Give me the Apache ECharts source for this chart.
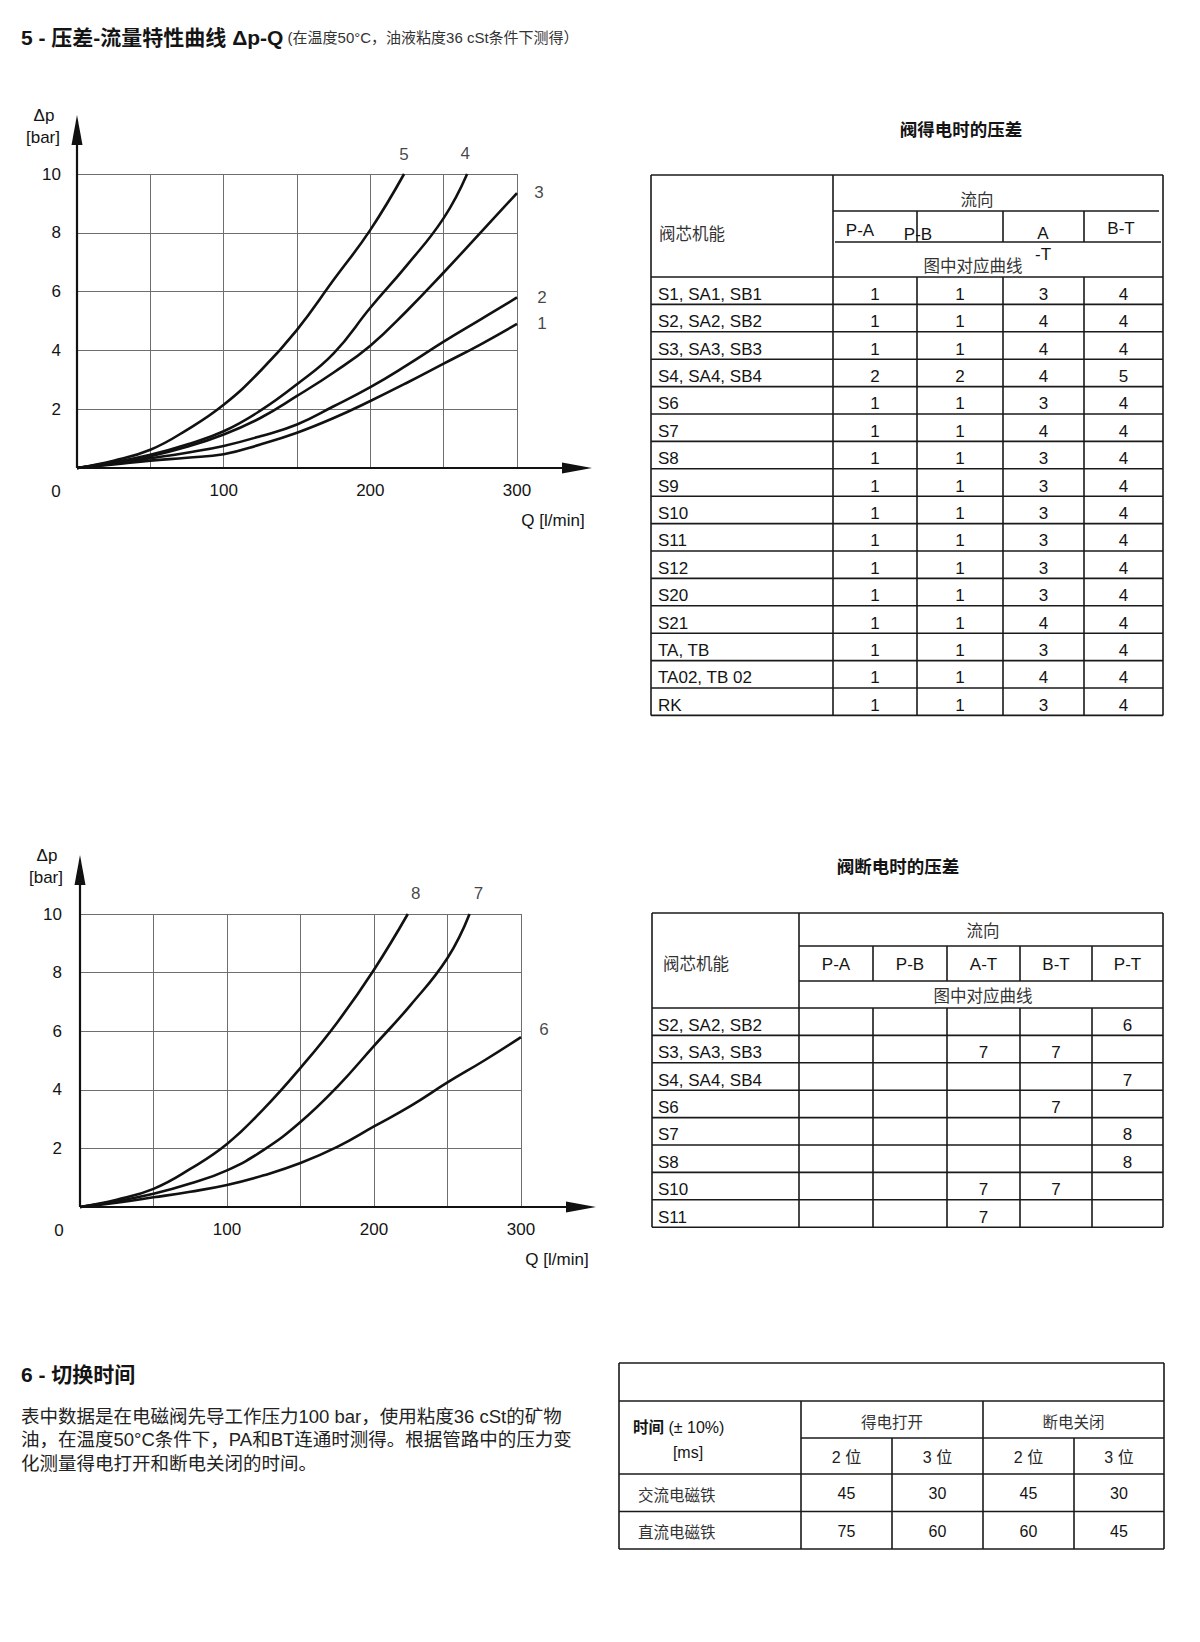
<!DOCTYPE html>
<html><head><meta charset="utf-8">
<script src="https://cdn.jsdelivr.net/npm/echarts@6/dist/echarts.min.js"></script>
<style>html,body{margin:0;padding:0;background:#fff}#page{width:1200px;height:1642px}</style>
</head><body><div id="page"></div>
<script>
// ---------------- data ----------------
const xTickLabels = [100, 200, 300];
const yTickLabels = [2, 4, 6, 8, 10];

const curve1 = [[0,0],[25,0.12],[50,0.25],[75,0.35],[100,0.47],[125,0.8],[150,1.2],[175,1.7],[200,2.28],[225,2.9],[250,3.55],[275,4.2],[300,4.9]];
const curve2 = [[0,0],[25,0.15],[50,0.33],[75,0.52],[100,0.75],[125,1.08],[150,1.48],[175,2.1],[200,2.75],[225,3.5],[250,4.3],[275,5.05],[300,5.8]];
const curve3 = [[0,0],[25,0.18],[50,0.4],[75,0.72],[100,1.14],[125,1.7],[150,2.45],[175,3.25],[200,4.16],[225,5.35],[250,6.65],[275,8.0],[300,9.35]];
const curve4 = [[0,0],[25,0.2],[50,0.45],[75,0.8],[100,1.25],[125,1.95],[150,2.85],[175,3.9],[200,5.45],[225,6.9],[250,8.5],[266,10]];
const curve5 = [[0,0],[25,0.25],[50,0.62],[75,1.3],[100,2.15],[125,3.3],[150,4.7],[175,6.4],[200,8.1],[223,10]];
const curve6 = [[0,0],[25,0.15],[50,0.33],[75,0.52],[100,0.75],[125,1.08],[150,1.5],[175,2.05],[200,2.75],[225,3.45],[250,4.25],[275,5.0],[300,5.8]];
const curve7 = [[0,0],[25,0.2],[50,0.45],[75,0.8],[100,1.25],[125,1.95],[150,2.9],[175,4.1],[200,5.5],[225,6.9],[250,8.5],[265,10]];
const curve8 = [[0,0],[25,0.25],[50,0.62],[75,1.3],[100,2.15],[125,3.35],[150,4.75],[175,6.3],[200,8.1],[223,10]];
const curveNames1 = ['1','2','3','4','5'];
const curveNames2 = ['6','7','8'];

const flowCols1 = ['P-A','P-B','A-T','B-T'];
const spoolRows1 = ['S1, SA1, SB1','S2, SA2, SB2','S3, SA3, SB3','S4, SA4, SB4','S6','S7','S8','S9','S10','S11','S12','S20','S21','TA, TB','TA02, TB 02','RK'];
const onPA = [1,1,1,2,1,1,1,1,1,1,1,1,1,1,1,1];
const onPB = [1,1,1,2,1,1,1,1,1,1,1,1,1,1,1,1];
const onAT = [3,4,4,4,3,4,3,3,3,3,3,3,4,3,4,3];
const onBT = [4,4,4,5,4,4,4,4,4,4,4,4,4,4,4,4];

const flowCols2 = ['P-A','P-B','A-T','B-T','P-T'];
const spoolRows2 = ['S2, SA2, SB2','S3, SA3, SB3','S4, SA4, SB4','S6','S7','S8','S10','S11'];
const offPA = ['','','','','','','',''];
const offPB = ['','','','','','','',''];
const offAT = ['', 7,'','','','', 7, 7];
const offBT = ['', 7,'', 7,'','', 7,''];
const offPT = [ 6,'', 7,'', 8, 8,'',''];

const timeRows = ['交流电磁铁','直流电磁铁'];
const timeGroups = ['得电打开','断电关闭'];
const timeSub = ['2 位','3 位','2 位','3 位'];
const timeOn2 = [45, 75];
const timeOn3 = [30, 60];
const timeOff2 = [45, 60];
const timeOff3 = [30, 45];

// ---------------- layout / style ----------------
const FONT = '"Liberation Sans", Arial, "Noto Sans CJK SC", sans-serif';
const CJK = '"Noto Sans CJK SC", "Liberation Sans", sans-serif';
const INK = '#141414';
const G1 = {left: 77, top: 174, width: 440, height: 294};
const G2 = {left: 80, top: 914, width: 441, height: 293};

const gfx = [];
function L(x1, y1, x2, y2, w, c) {
  gfx.push({type: 'line', silent: true, z: 20, shape: {x1, y1, x2, y2}, style: {stroke: c || '#1a1a1a', lineWidth: w || 1.6}});
}
function T(x, y, text, o) {
  o = o || {};
  const st = {text: text, fontSize: o.size || 17, fontFamily: o.font || FONT, fontWeight: o.weight || 'normal',
    fill: o.color || INK, align: o.align || 'left', verticalAlign: 'middle'};
  if (o.rich) st.rich = o.rich;
  if (o.lineHeight) st.lineHeight = o.lineHeight;
  gfx.push({type: 'text', silent: true, z: 20, x: x, y: y, style: st});
}
function P(points) {
  gfx.push({type: 'polygon', silent: true, z: 21, shape: {points}, style: {fill: '#111'}});
}

// title
T(21, 37, '{b|5 - 压差-流量特性曲线 Δp-Q}{s| (在温度50°C，油液粘度36 cSt条件下测得）}', {
  rich: {
    b: {fontSize: 21, fontWeight: 'bold', fontFamily: FONT, fill: INK},
    s: {fontSize: 15, fontFamily: FONT, fill: '#333'}
  }
});

// chart decorations (axis lines with arrows, axis names, origin label)
[G1, G2].forEach(G => {
  const ox = G.left, oy = G.top + G.height;
  const xt = G.left + G.width + 75, yt = G.top - 59;
  L(ox, oy, xt - 26, oy, 2.2, '#111');
  P([[xt, oy], [xt - 30, oy - 5.5], [xt - 30, oy + 5.5]]);
  L(ox, oy, ox, yt + 26, 2.2, '#111');
  P([[ox, yt], [ox - 5.5, yt + 30], [ox + 5.5, yt + 30]]);
  T(ox - 33, yt, 'Δp', {align: 'center', size: 17});
  T(ox - 34, yt + 22, '[bar]', {align: 'center', size: 17});
  T(ox - 21, oy + 23, '0', {align: 'center', size: 17});
  T(ox + G.width + 36, oy + 52, 'Q [l/min]', {align: 'center', size: 17});
});

// ---------- table 1 ----------
(function () {
  const Lx = 651, Rx = 1163, Ty = 175, c1 = 833, cols = [833, 917, 1003, 1084, 1163];
  const hA = 211, hB = 242, hC = 277, rh = 27.4;
  const n = spoolRows1.length, By = hC + n * rh;
  T(961, 128, '阀得电时的压差', {align: 'center', size: 17.5, weight: 'bold', font: CJK});
  L(Lx, Ty, Rx, Ty); L(Lx, By, Rx, By); L(Lx, Ty, Lx, By); L(Rx, Ty, Rx, By); L(c1, Ty, c1, By);
  L(c1, hA, Rx - 4, hA); L(c1 + 2, hB, Rx - 2, hB); L(Lx, hC, Rx, hC);
  for (let k = 1; k < n; k++) L(Lx, hC + k * rh, Rx, hC + k * rh);
  for (let j = 1; j < 4; j++) { L(cols[j], hA, cols[j], hB); L(cols[j], hC, cols[j], By); }
  T(659, 233, '阀芯机能', {size: 16.5, font: CJK, color: '#333'});
  T(977, 199, '流向', {align: 'center', size: 16.5, font: CJK, color: '#333'});
  const hp = [[860, 230], [918, 234], [1043, 244], [1121, 228]];
  flowCols1.forEach((c, j) => {
    const txt = j === 2 ? c.replace('-', '\n-') : c;
    T(hp[j][0], hp[j][1], txt, {align: 'center', size: 17, lineHeight: 21});
  });
  T(973, 265, '图中对应曲线', {align: 'center', size: 16.5, font: CJK, color: '#333'});
  const vals = [onPA, onPB, onAT, onBT];
  spoolRows1.forEach((r, i) => {
    const y = hC + i * rh + rh / 2 + 3.5;
    T(658, y, r, {size: 17});
    vals.forEach((v, j) => T((cols[j] + cols[j + 1]) / 2, y, String(v[i]), {align: 'center', size: 17}));
  });
})();

// ---------- table 2 ----------
(function () {
  const Lx = 652, Rx = 1163, Ty = 913, c1 = 799, cols = [799, 873, 947, 1020, 1092, 1163];
  const hA = 946, hB = 981, hC = 1008, rh = 27.4;
  const n = spoolRows2.length, By = hC + n * rh;
  T(898, 865, '阀断电时的压差', {align: 'center', size: 17.5, weight: 'bold', font: CJK});
  L(Lx, Ty, Rx, Ty); L(Lx, By, Rx, By); L(Lx, Ty, Lx, By); L(Rx, Ty, Rx, By); L(c1, Ty, c1, By);
  L(c1, hA, Rx, hA); L(c1, hB, Rx, hB); L(Lx, hC, Rx, hC);
  for (let k = 1; k < n; k++) L(Lx, hC + k * rh, Rx, hC + k * rh);
  for (let j = 1; j < 5; j++) { L(cols[j], hA, cols[j], hB); L(cols[j], hC, cols[j], By); }
  T(663, 963, '阀芯机能', {size: 16.5, font: CJK, color: '#333'});
  T(983, 930, '流向', {align: 'center', size: 16.5, font: CJK, color: '#333'});
  flowCols2.forEach((c, j) => T((cols[j] + cols[j + 1]) / 2, 964, c, {align: 'center', size: 17}));
  T(983, 995, '图中对应曲线', {align: 'center', size: 16.5, font: CJK, color: '#333'});
  const vals = [offPA, offPB, offAT, offBT, offPT];
  spoolRows2.forEach((r, i) => {
    const y = hC + i * rh + rh / 2 + 3.5;
    T(658, y, r, {size: 17});
    vals.forEach((v, j) => { if (v[i] !== '') T((cols[j] + cols[j + 1]) / 2, y, String(v[i]), {align: 'center', size: 17}); });
  });
})();

// ---------- section 6 ----------
T(21, 1374, '6 - 切换时间', {size: 21, weight: 'bold'});
const para = ['表中数据是在电磁阀先导工作压力100 bar，使用粘度36 cSt的矿物',
  '油，在温度50°C条件下，PA和BT连通时测得。根据管路中的压力变',
  '化测量得电打开和断电关闭的时间。'];
para.forEach((s, i) => T(21, 1416 + i * 23.5, s, {size: 18.5, color: '#222'}));

// ---------- table 3 ----------
(function () {
  const Lx = 619, Rx = 1164, Ty = 1363, r1 = 1401, r2 = 1438, r3 = 1474, rh = 37.5;
  const c1 = 801, mid = 983, cols = [801, 892, 983, 1074, 1164];
  const n = timeRows.length, By = r3 + n * rh;
  L(Lx, Ty, Rx, Ty); L(Lx, r1, Rx, r1); L(c1, r2, Rx, r2); L(Lx, r3, Rx, r3);
  for (let k = 1; k <= n; k++) L(Lx, r3 + k * rh, Rx, r3 + k * rh);
  L(Lx, Ty, Lx, By); L(Rx, Ty, Rx, By); L(c1, r1, c1, By); L(mid, r1, mid, By);
  L(cols[1], r2, cols[1], By); L(cols[3], r2, cols[3], By);
  T(633, 1427, '{b|时间}{n| (± 10%)}', {rich: {b: {fontSize: 15.5, fontWeight: 'bold', fontFamily: FONT, fill: INK}, n: {fontSize: 16, fontFamily: FONT, fill: INK}}});
  T(688, 1452, '[ms]', {align: 'center', size: 16});
  timeGroups.forEach((g, j) => T((cols[2 * j] + cols[2 * j + 2]) / 2, 1421, g, {align: 'center', size: 15.5, font: CJK, color: '#333'}));
  timeSub.forEach((s, j) => T((cols[j] + cols[j + 1]) / 2, 1457, s, {align: 'center', size: 16, color: '#222'}));
  const vals = [timeOn2, timeOn3, timeOff2, timeOff3];
  timeRows.forEach((r, i) => {
    const y = r3 + i * rh + rh / 2 + 1;
    T(638, y, r, {size: 15.5, font: CJK, color: '#333'});
    vals.forEach((v, j) => T((cols[j] + cols[j + 1]) / 2, y, String(v[i]), {align: 'center', size: 16}));
  });
})();

// ---------------- chart option ----------------
function xAxisCfg(i) {
  return {gridIndex: i, type: 'value', min: 0, max: 300, interval: 50,
    axisLine: {show: false}, axisTick: {show: false},
    splitLine: {show: true, lineStyle: {color: '#6e6e6e', width: 1}},
    axisLabel: {margin: 14, fontSize: 17, color: INK, fontFamily: FONT,
      formatter: v => xTickLabels.includes(v) ? String(v) : ''}};
}
function yAxisCfg(i) {
  return {gridIndex: i, type: 'value', min: 0, max: 10, interval: 2,
    axisLine: {show: false}, axisTick: {show: false},
    splitLine: {show: true, lineStyle: {color: '#6e6e6e', width: 1}},
    axisLabel: {margin: i === 0 ? 16 : 18, fontSize: 17, color: INK, fontFamily: FONT,
      formatter: v => yTickLabels.includes(v) ? String(v) : ''}};
}
function curveSeries(data, gi) {
  return {type: 'line', xAxisIndex: gi, yAxisIndex: gi, data: data, smooth: 0.45, symbol: 'none',
    lineStyle: {color: '#111', width: 2.6}, silent: true, clip: false, z: 3, animation: false};
}
function labelSeries(curves, names, offsets, gi) {
  return {type: 'scatter', xAxisIndex: gi, yAxisIndex: gi, symbolSize: 1, silent: true, clip: false, z: 5,
    itemStyle: {color: 'rgba(0,0,0,0)'}, animation: false,
    data: curves.map((c, k) => ({value: c[c.length - 1],
      label: {show: true, position: 'inside', offset: offsets[k], formatter: names[k], fontSize: 17, color: INK, fontFamily: FONT}}))};
}

const chart = echarts.init(document.getElementById('page'), null, {renderer: 'svg', width: 1200, height: 1642});
chart.setOption({
  animation: false,
  backgroundColor: '#fff',
  grid: [
    Object.assign({containLabel: false, outerBoundsMode: 'none'}, G1),
    Object.assign({containLabel: false, outerBoundsMode: 'none'}, G2)
  ],
  xAxis: [xAxisCfg(0), xAxisCfg(1)],
  yAxis: [yAxisCfg(0), yAxisCfg(1)],
  series: [
    curveSeries(curve1, 0), curveSeries(curve2, 0), curveSeries(curve3, 0), curveSeries(curve4, 0), curveSeries(curve5, 0),
    curveSeries(curve6, 1), curveSeries(curve7, 1), curveSeries(curve8, 1),
    labelSeries([curve1, curve2, curve3, curve4, curve5], curveNames1, [[25, 0], [25, 0], [22, -1], [-2, -21], [0, -20]], 0),
    labelSeries([curve6, curve7, curve8], curveNames2, [[23, -8], [9, -21], [8, -21]], 1)
  ],
  graphic: gfx
});
</script></body></html>
